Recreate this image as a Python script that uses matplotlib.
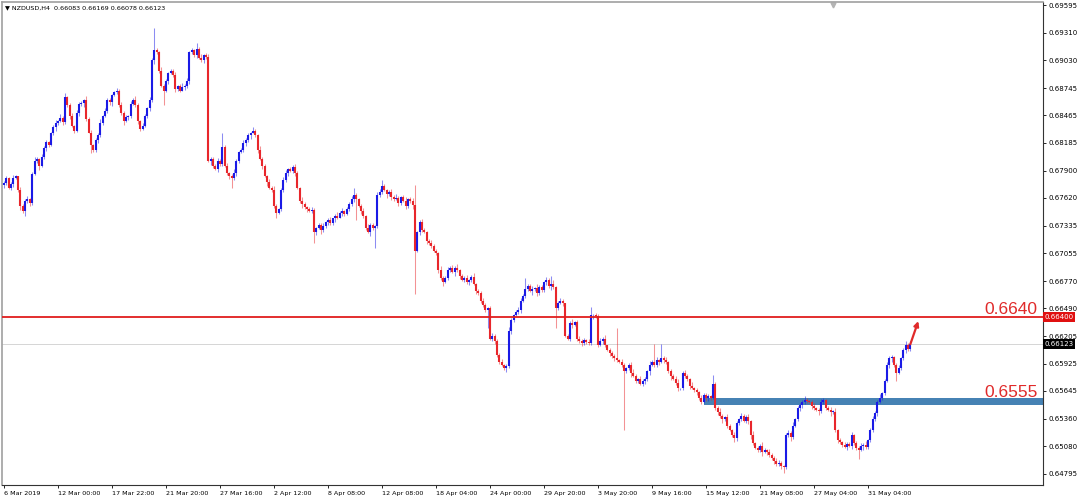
import numpy as np
import matplotlib
matplotlib.use("Agg")
import matplotlib.pyplot as plt
from matplotlib.transforms import blended_transform_factory
from matplotlib.patches import Rectangle

# ---------------- data (prices in pips, 1 pip = 0.0001) ----------------
header_text = "\u25bc NZDUSD,H4  0.66083 0.66169 0.66078 0.66123"
first_open_pips = 6775

close_pips = [
    6777, 6782, 6772, 6776, 6782, 6784, 6770, 6754, 6749, 6759,
    6761, 6757, 6787, 6800, 6802, 6795, 6804, 6813, 6819,
    6816, 6828, 6835, 6839, 6841, 6844, 6840, 6865, 6857, 6846,
    6836, 6831, 6849, 6858, 6859, 6862, 6843, 6829, 6816, 6811,
    6821, 6826, 6839, 6846, 6851, 6862, 6860, 6867, 6870,
    6872, 6857, 6849, 6841, 6845, 6846, 6858, 6862, 6857, 6841,
    6833, 6836, 6846, 6854, 6862, 6903, 6913, 6911, 6892, 6877,
    6872, 6882, 6890, 6892, 6888, 6874, 6877, 6872, 6876,
    6877, 6882, 6911, 6913, 6908, 6915, 6905, 6903, 6908, 6906,
    6800, 6802, 6795, 6792, 6800, 6797, 6814, 6795, 6788, 6785,
    6782, 6788, 6800, 6809, 6811, 6818, 6821, 6826, 6829,
    6831, 6826, 6811, 6802, 6795, 6785, 6778, 6772, 6770, 6754,
    6747, 6751, 6770, 6780, 6788, 6792, 6790, 6794, 6788, 6772,
    6759, 6756, 6753, 6751, 6749, 6750, 6727, 6731, 6734,
    6729, 6733, 6737, 6739, 6736, 6741, 6744, 6742, 6747, 6749,
    6746, 6751, 6756, 6761, 6765, 6761, 6754, 6749, 6744,
    6731, 6727, 6734, 6731, 6733, 6765, 6768, 6774, 6770, 6766,
    6768, 6763, 6761, 6762, 6757, 6763, 6759, 6754, 6761, 6759,
    6755, 6708, 6727, 6737, 6729, 6727, 6718, 6716, 6713, 6708,
    6706, 6688, 6680, 6676, 6680, 6688, 6690, 6686, 6690, 6688,
    6682, 6678, 6680, 6676, 6678, 6681, 6674, 6667, 6665,
    6657, 6652, 6647, 6649, 6618, 6621, 6616, 6601, 6594, 6591,
    6588, 6590, 6626, 6637, 6642, 6645, 6647, 6657, 6662, 6669,
    6672, 6667, 6669, 6670, 6665, 6671, 6668, 6676, 6678,
    6672, 6674, 6671, 6649, 6655, 6657, 6654, 6621, 6618, 6634,
    6632, 6635, 6618, 6616, 6614, 6617, 6615, 6614, 6642, 6642,
    6641, 6611, 6616, 6618, 6611, 6606, 6603, 6600, 6598,
    6596, 6594, 6591, 6585, 6588, 6591, 6583, 6580, 6575, 6577,
    6572, 6575, 6577, 6585, 6591, 6594, 6591, 6596, 6594, 6598,
    6596, 6594, 6585, 6580, 6577, 6573, 6567, 6567, 6583,
    6580, 6577, 6570, 6567, 6565, 6563, 6557, 6553, 6560, 6557,
    6559, 6557, 6572, 6547, 6543, 6539, 6536, 6538, 6529, 6524,
    6519, 6516, 6532, 6536, 6539, 6534, 6538, 6534, 6519, 6511,
    6506, 6504, 6508, 6502, 6504, 6502, 6499, 6496, 6493,
    6490, 6491, 6488, 6487, 6519, 6521, 6517, 6529, 6536, 6547,
    6550, 6553, 6555, 6554, 6553, 6549, 6547, 6545, 6544,
    6553, 6555, 6547, 6545, 6543, 6543, 6524, 6514, 6512, 6509,
    6507, 6510, 6508, 6519, 6511, 6506, 6504, 6508, 6509, 6507,
    6514, 6524, 6536, 6542, 6553, 6557, 6562, 6575, 6591, 6598,
    6599, 6591, 6583, 6588, 6598, 6606, 6612, 6607, 6612.3,
]

upper_wick_pips = [
    2,3,1,2,4,2,1,3,2,2, 3,1,2,4,2,1,3,2,2,1, 2,2,3,1,4,2,3,1,2,3,
    1,3,2,2,1,4,2,3,1,2, 2,4,1,3,2,2,1,2,3,2, 3,2,2,1,3,2,4,2,1,3,
    2,1,3,2,2,3,1,4,2,2, 1,2,2,3,1,2,4,2,3,1, 3,2,1,2,4,1,2,3,2,2,
    2,3,2,1,2,3,1,2,4,2, 1,2,3,2,2,1,3,2,1,4, 2,2,1,3,2,4,2,1,2,3,
    3,1,2,2,3,2,1,4,2,1, 2,3,2,1,2,2,3,1,2,4, 1,2,4,2,3,1,2,2,3,2,
    2,1,2,3,1,4,2,2,1,3, 3,2,2,1,2,3,2,4,2,1, 2,4,1,2,3,2,1,2,3,2,
    1,2,3,2,2,1,4,2,2,3, 2,3,2,4,1,2,2,3,1,2, 4,1,2,2,3,2,1,2,3,2,
    2,2,3,1,2,4,2,1,2,3, 3,2,1,2,2,3,1,4,2,2, 1,3,2,2,4,1,2,3,2,1,
    2,2,4,1,2,3,2,2,1,3, 3,1,2,2,3,2,4,1,2,2, 2,2,1,3,2,1,2,3,4,2,
    1,3,2,2,1,4,2,2,3,1, 2,2,3,1,2,2,3,4,1,2, 3,2,1,4,2,2,1,3,2,2,
    2,1,3,2,2,4,2,1,3,2, 2,3,2,1,3,2,2,3,1,4, 1,2,2,4,2,1,3,2,2,3,
    3,2,1,2,3,2,4,1,2,2, 2,4,2,1,2,3,1,2,3,2, 1,2,3,2,4,2,2,1,3,2,
    2,3,1,2,2,3,2,4,1,3, 3,2,2,4,1,2,3,2,2,1, 2,3,1,2,4,2,3,
]

lower_wick_pips = [
    3,2,1,2,3,1,2,4,2,1, 2,3,2,1,2,4,1,2,3,2, 1,2,4,2,1,3,2,2,3,1,
    2,1,3,2,4,2,1,3,2,2, 3,2,2,1,2,3,4,1,2,2, 2,4,1,3,2,1,2,3,2,1,
    1,2,3,2,4,2,2,1,3,2, 3,1,2,4,2,2,1,3,2,3, 2,2,3,1,2,3,2,1,4,2,
    1,3,2,2,1,2,4,2,2,3, 2,1,2,3,2,4,1,2,3,1, 3,2,4,1,2,2,3,1,2,2,
    2,3,1,2,3,1,2,4,2,3, 1,2,2,3,1,4,2,2,3,2, 2,4,2,1,3,2,1,2,2,3,
    3,1,3,2,2,1,4,2,1,2, 2,2,1,4,2,3,2,1,3,2, 1,3,2,2,4,2,1,3,2,1,
    3,2,2,1,2,3,2,4,1,2, 2,1,4,2,3,1,2,2,3,2, 1,3,2,3,2,2,4,1,2,3,
    2,2,1,2,4,2,3,2,1,2, 3,1,2,2,1,4,2,3,2,2, 2,3,2,4,2,1,2,2,3,1,
    1,2,3,1,2,2,4,2,2,3, 2,4,2,2,1,3,2,1,3,2, 3,2,1,2,3,2,2,4,1,2,
    2,1,2,3,2,4,1,2,2,3, 1,3,2,2,4,1,2,3,2,2, 2,2,4,1,2,3,2,2,1,3,
    3,2,1,2,3,2,4,2,2,1, 2,1,3,2,2,1,2,3,4,2, 1,2,2,4,1,3,2,2,3,2,
    2,3,1,2,2,4,2,1,2,3, 3,2,2,1,3,2,1,4,2,2, 2,1,4,2,2,3,2,2,1,3,
    1,3,2,2,3,1,4,2,2,2, 2,2,3,1,2,2,1,3,4,2, 3,1,2,2,3,2,2,
]

# notable wick extremes (candle index -> price in pips)
spike_highs = {26: 6869, 64: 6936, 82: 6921, 93: 6828, 106: 6835, 149: 6772,
               161: 6780, 175: 6775, 222: 6680, 233: 6682, 250: 6650,
               261: 6629, 277: 6613, 280: 6613, 302: 6581}
spike_lows = {9: 6744, 37: 6808, 68: 6857, 97: 6772, 116: 6741, 132: 6716,
              150: 6739, 158: 6711, 175: 6664, 206: 6629, 214: 6585,
              235: 6629, 264: 6524, 311: 6512, 332: 6480, 364: 6495, 380: 6575}

x_tick_step = 23
x_tick_labels = ["6 Mar 2019", "12 Mar 00:00", "17 Mar 22:00", "21 Mar 20:00",
                 "27 Mar 16:00", "2 Apr 12:00", "8 Apr 08:00", "12 Apr 08:00",
                 "18 Apr 04:00", "24 Apr 00:00", "29 Apr 20:00", "3 May 20:00",
                 "9 May 16:00", "15 May 12:00", "21 May 08:00", "27 May 04:00",
                 "31 May 04:00"]
y_tick_values = [0.69595, 0.69310, 0.69030, 0.68745, 0.68465, 0.68185, 0.67900,
                 0.67620, 0.67335, 0.67055, 0.66770, 0.66490, 0.66205, 0.65925,
                 0.65645, 0.65360, 0.65080, 0.64795]

resistance_level = 0.6640
resistance_text = "0.6640"
support_low, support_high = 0.65503, 0.65574
support_text = "0.6555"
support_start = 298
bid_price = 0.66123
y_range = (0.64682, 0.69626)
x_range = (-0.85, 442.5)

# ---------------- build OHLC ----------------
close = np.array(close_pips, dtype=float) / 1e4
n = len(close)
assert len(upper_wick_pips) == n and len(lower_wick_pips) == n
opn = np.r_[first_open_pips / 1e4, close[:-1]]
high = np.maximum(opn, close) + np.array(upper_wick_pips) / 1e4
low = np.minimum(opn, close) - np.array(lower_wick_pips) / 1e4
for k, v in spike_highs.items():
    high[k] = max(high[k], v / 1e4)
for k, v in spike_lows.items():
    low[k] = min(low[k], v / 1e4)

idx = np.arange(n)
bull = close >= opn
BLUE = "#1a1ae6"
RED = "#e8262b"

fig = plt.figure(figsize=(10.8, 5.0), dpi=100)
ax = fig.add_axes([2 / 1080, 15 / 500, 1041 / 1080, 483 / 500])
ax.set_xlim(*x_range)
ax.set_ylim(*y_range)

# support band and lines
ax.add_patch(Rectangle((support_start, support_low), x_range[1] - support_start,
                       support_high - support_low, facecolor="#4682b4",
                       edgecolor="none", zorder=1))
ax.axhline(bid_price, color="#cfcfcf", lw=0.6, zorder=1)

# candles
body_min = 0.00007
for mask, col in ((bull, BLUE), (~bull, RED)):
    ax.vlines(idx[mask], low[mask], high[mask], color=col, lw=0.75, alpha=0.5, zorder=2)
    b0 = np.minimum(opn[mask], close[mask])
    b1 = np.maximum(np.maximum(opn[mask], close[mask]), b0 + body_min)
    ax.vlines(idx[mask], b0, b1, color=col, lw=1.5, zorder=3)

ax.axhline(resistance_level, color="#e01e1e", lw=1.3, zorder=4)

# annotations
tr = blended_transform_factory(ax.transAxes, ax.transData)
ax.text(0.995, resistance_level + 0.00033, resistance_text, transform=tr,
        ha="right", va="baseline", fontsize=12.5, color="#e02a2a",
        family=["Liberation Sans", "DejaVu Sans"], zorder=5)
ax.text(0.995, support_high + 0.00005, support_text, transform=tr,
        ha="right", va="baseline", fontsize=12.5, color="#e02a2a",
        family=["Liberation Sans", "DejaVu Sans"], zorder=5)

ax.annotate("", xy=(n + 2.4, resistance_level - 0.0004),
            xytext=(n - 1, close[-1]),
            arrowprops=dict(arrowstyle="-|>", color="#e02a2a", lw=1.6,
                            mutation_scale=7, shrinkA=0, shrinkB=0), zorder=5)

# price boxes on the right axis
ax.text(1.0015, resistance_level, "0.66400", transform=tr, ha="left", va="center",
        fontsize=5, color="white", clip_on=False,
        bbox=dict(boxstyle="square,pad=0.25", fc="#e01010", ec="none"))
ax.text(1.0015, bid_price, f"{bid_price:.5f}", transform=tr, ha="left", va="center",
        fontsize=5, color="white", clip_on=False,
        bbox=dict(boxstyle="square,pad=0.25", fc="black", ec="none"))

# axes styling
ax.yaxis.tick_right()
ax.set_yticks(y_tick_values)
ax.set_yticklabels([f"{v:.5f}" for v in y_tick_values])
ax.tick_params(axis="y", labelsize=5, length=2.5, width=0.6, pad=1.5, colors="black")
ax.set_xticks(np.arange(len(x_tick_labels)) * x_tick_step)
ax.set_xticklabels(x_tick_labels, ha="left")
ax.tick_params(axis="x", labelsize=4.6, length=2.5, width=0.6, pad=2, colors="black")
for side in ("left", "top"):
    ax.spines[side].set_color("#a0a0a0")
    ax.spines[side].set_linewidth(1.2)
for side in ("right", "bottom"):
    ax.spines[side].set_color("#333333")
    ax.spines[side].set_linewidth(0.8)

fig.text(5 / 1080, 1 - 8 / 500, header_text, fontsize=4.6, va="center", ha="left",
         family=["DejaVu Sans"])
ax.plot([0.798], [0.994], marker="v", color="#b4b4b4", ms=3.5,
        transform=ax.transAxes, clip_on=False)

fig.savefig("out.png", dpi=100, facecolor="white")
